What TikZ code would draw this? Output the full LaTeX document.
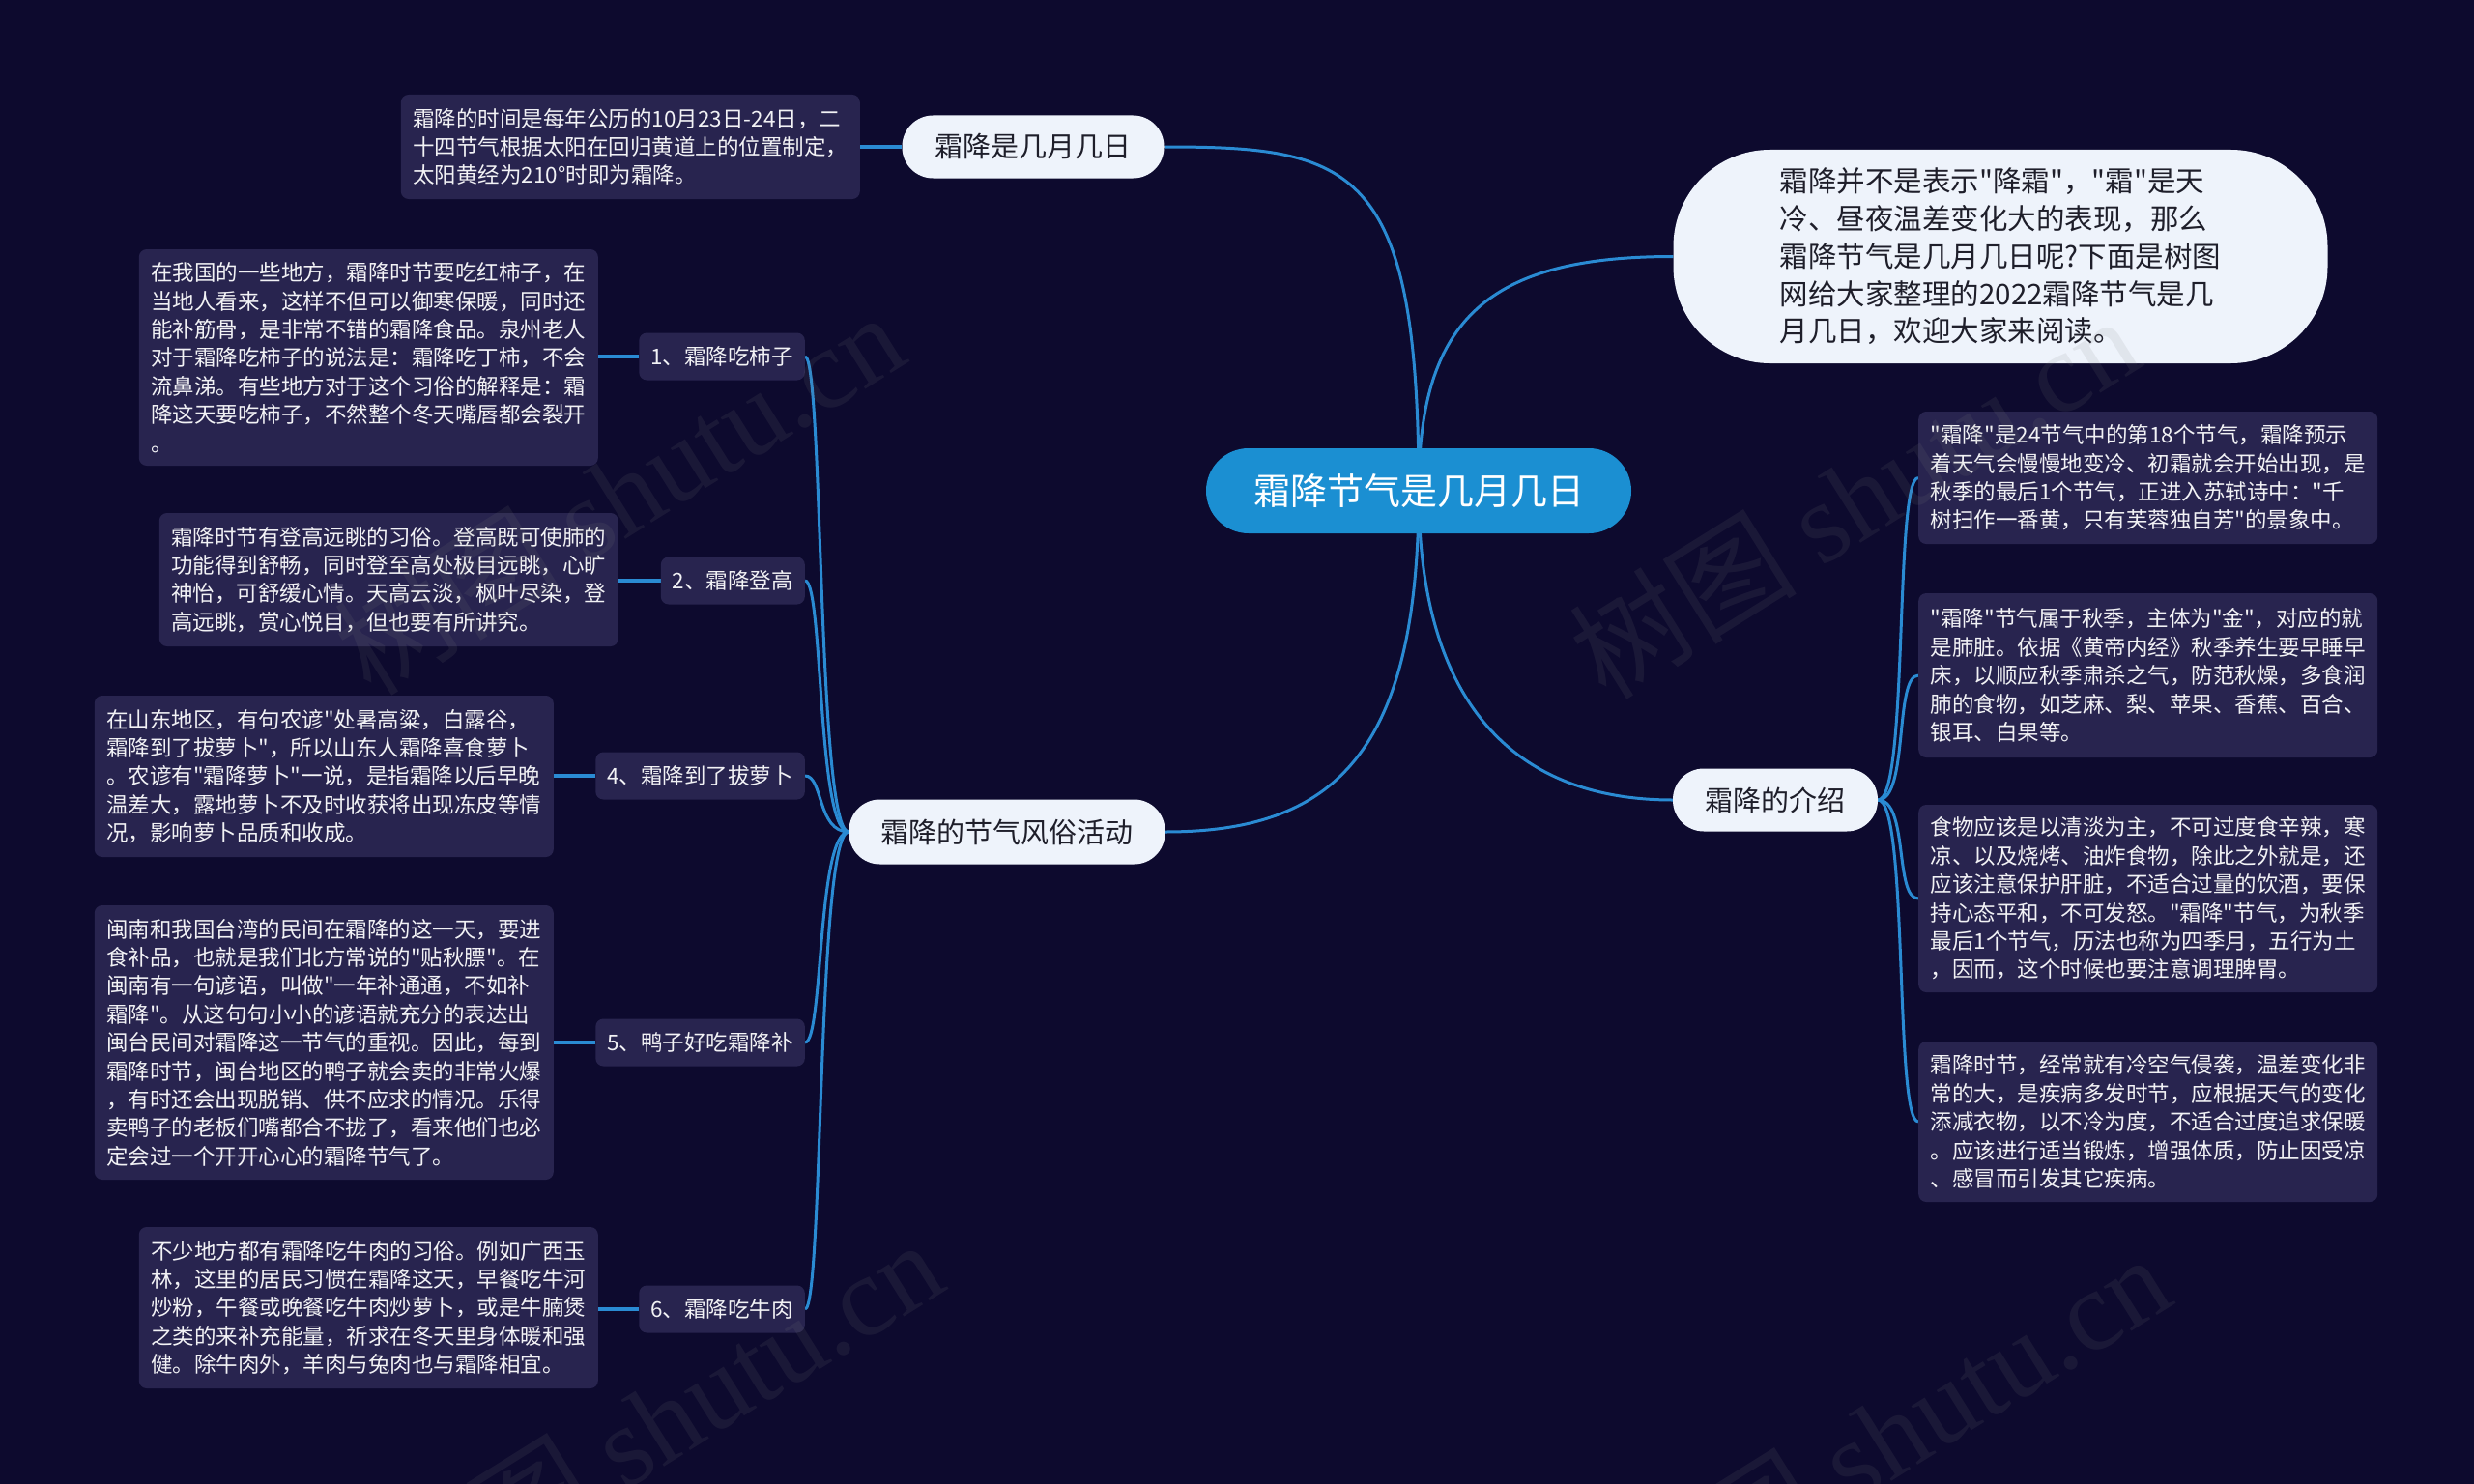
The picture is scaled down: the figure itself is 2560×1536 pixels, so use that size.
\documentclass[tikz,border=0pt]{standalone}
\usepackage{fontspec}
\setmainfont{Noto Sans CJK SC}
\newfontfamily\zh{Noto Sans CJK SC}
\newfontfamily\wmserif{Liberation Serif}
\pgfdeclarelayer{bglayer}
\pgfdeclarelayer{linelayer}
\pgfdeclarelayer{wmlayer}
\pgfsetlayers{bglayer,linelayer,main,wmlayer}
\definecolor{bgc}{HTML}{0D0A2E}
\definecolor{boxc}{HTML}{28244F}
\definecolor{lightc}{HTML}{EEF3FB}
\definecolor{cenc}{HTML}{1B8FD2}
\definecolor{linec}{HTML}{2A8BD3}
\definecolor{txtc}{HTML}{F2F2F5}
\definecolor{darktxt}{HTML}{1E1E2A}
\definecolor{wmc}{HTML}{808080}
\tikzset{
  detail/.style={fill=boxc, rounded corners=8pt, text=txtc, align=left, inner xsep=9pt, inner ysep=0pt, minimum width=475pt, font=\zh\fontsize{22.5pt}{29.4pt}\selectfont},
  subnode/.style={fill=boxc, rounded corners=8pt, text=txtc, inner xsep=12pt, inner ysep=0pt, minimum height=49pt, font=\zh\fontsize{22.5pt}{27pt}\selectfont},
  topic/.style={fill=lightc, text=darktxt, rounded corners=32pt, inner ysep=0pt, minimum height=65pt, font=\zh\fontsize{29pt}{35pt}\selectfont},
  conn/.style={draw=linec, line width=3pt},
  hconn/.style={draw=linec, line width=3.5pt},
  wm/.style={text=wmc, opacity=0.12, font=\zh\fontsize{118pt}{130pt}\selectfont}
}
\begin{document}
\begin{tikzpicture}[x=1pt,y=-1pt]
\begin{pgfonlayer}{bglayer}
\fill[bgc] (0,0) rectangle (2560,1536);
\end{pgfonlayer}
\useasboundingbox (0,0) rectangle (2560,1536);

% center
\node[fill=cenc, text=white, rounded corners=44pt, minimum width=440pt, minimum height=88pt, inner ysep=0pt, font=\zh\fontsize{38pt}{44pt}\selectfont] (c) at (1468,508) {霜降节气是几月几日};

% main topics
\node[topic, minimum width=271pt] (a) at (1069,152) {霜降是几月几日};
\node[fill=lightc, text=darktxt, rounded corners=100pt, minimum width=677pt, minimum height=221pt, align=left, font=\zh\fontsize{29.5pt}{38.8pt}\selectfont] (b) at (2070,265.5) {霜降并不是表示"降霜"，"霜"是天\\冷、昼夜温差变化大的表现，那么\\霜降节气是几月几日呢?下面是树图\\网给大家整理的2022霜降节气是几\\月几日，欢迎大家来阅读。};
\node[topic, minimum width=212pt] (d) at (1837,828) {霜降的介绍};
\node[topic, minimum width=327pt, minimum height=67pt] (e) at (1042,861) {霜降的节气风俗活动};

% detail of a
\node[detail, anchor=east, minimum height=108pt] (d0) at (890,152) {霜降的时间是每年公历的10月23日-24日，二\\十四节气根据太阳在回归黄道上的位置制定，\\太阳黄经为210°时即为霜降。};

% left sub nodes
\node[subnode, anchor=east] (l1) at (833,369) {1、霜降吃柿子};
\node[subnode, anchor=east] (l2) at (833,601) {2、霜降登高};
\node[subnode, anchor=east] (l4) at (833,803) {4、霜降到了拔萝卜};
\node[subnode, anchor=east] (l5) at (833,1079) {5、鸭子好吃霜降补};
\node[subnode, anchor=east] (l6) at (833,1355) {6、霜降吃牛肉};

% left details
\node[detail, anchor=east, minimum height=224pt] (d1) at (619,370) {在我国的一些地方，霜降时节要吃红柿子，在\\当地人看来，这样不但可以御寒保暖，同时还\\能补筋骨，是非常不错的霜降食品。泉州老人\\对于霜降吃柿子的说法是：霜降吃丁柿，不会\\流鼻涕。有些地方对于这个习俗的解释是：霜\\降这天要吃柿子，不然整个冬天嘴唇都会裂开\\。};
\node[detail, anchor=east, minimum height=138pt] (d2) at (640,600) {霜降时节有登高远眺的习俗。登高既可使肺的\\功能得到舒畅，同时登至高处极目远眺，心旷\\神怡，可舒缓心情。天高云淡，枫叶尽染，登\\高远眺，赏心悦目，但也要有所讲究。};
\node[detail, anchor=east, minimum height=167pt] (d4) at (573,803.5) {在山东地区，有句农谚"处暑高粱，白露谷，\\霜降到了拔萝卜"，所以山东人霜降喜食萝卜\\。农谚有"霜降萝卜"一说，是指霜降以后早晚\\温差大，露地萝卜不及时收获将出现冻皮等情\\况，影响萝卜品质和收成。};
\node[detail, anchor=east, minimum height=284pt] (d5) at (573,1079) {闽南和我国台湾的民间在霜降的这一天，要进\\食补品，也就是我们北方常说的"贴秋膘"。在\\闽南有一句谚语，叫做"一年补通通，不如补\\霜降"。从这句句小小的谚语就充分的表达出\\闽台民间对霜降这一节气的重视。因此，每到\\霜降时节，闽台地区的鸭子就会卖的非常火爆\\，有时还会出现脱销、供不应求的情况。乐得\\卖鸭子的老板们嘴都合不拢了，看来他们也必\\定会过一个开开心心的霜降节气了。};
\node[detail, anchor=east, minimum height=167pt] (d6) at (619,1353.5) {不少地方都有霜降吃牛肉的习俗。例如广西玉\\林，这里的居民习惯在霜降这天，早餐吃牛河\\炒粉，午餐或晚餐吃牛肉炒萝卜，或是牛腩煲\\之类的来补充能量，祈求在冬天里身体暖和强\\健。除牛肉外，羊肉与兔肉也与霜降相宜。};

% right details
\node[detail, anchor=west, minimum height=137pt] (r1) at (1985,494.5) {"霜降"是24节气中的第18个节气，霜降预示\\着天气会慢慢地变冷、初霜就会开始出现，是\\秋季的最后1个节气，正进入苏轼诗中："千\\树扫作一番黄，只有芙蓉独自芳"的景象中。};
\node[detail, anchor=west, minimum height=170pt] (r2) at (1985,699) {"霜降"节气属于秋季，主体为"金"，对应的就\\是肺脏。依据《黄帝内经》秋季养生要早睡早\\床，以顺应秋季肃杀之气，防范秋燥，多食润\\肺的食物，如芝麻、梨、苹果、香蕉、百合、\\银耳、白果等。};
\node[detail, anchor=west, minimum height=194pt] (r3) at (1985,930) {食物应该是以清淡为主，不可过度食辛辣，寒\\凉、以及烧烤、油炸食物，除此之外就是，还\\应该注意保护肝脏，不适合过量的饮酒，要保\\持心态平和，不可发怒。"霜降"节气，为秋季\\最后1个节气，历法也称为四季月，五行为土\\，因而，这个时候也要注意调理脾胃。};
\node[detail, anchor=west, minimum height=166pt] (r4) at (1985,1161) {霜降时节，经常就有冷空气侵袭，温差变化非\\常的大，是疾病多发时节，应根据天气的变化\\添减衣物，以不冷为度，不适合过度追求保暖\\。应该进行适当锻炼，增强体质，防止因受凉\\、感冒而引发其它疾病。};

\begin{pgfonlayer}{linelayer}
\draw[conn] (c.center) .. controls (1468,170) and (1400,152) .. (a.east);
\draw[conn] (c.center) .. controls (1468,330) and (1540,265.5) .. (b.west);
\draw[conn] (c.center) .. controls (1468,720) and (1560,828) .. (d.west);
\draw[conn] (c.center) .. controls (1468,780) and (1380,861) .. (e.east);
\draw[hconn] (a.west) -- (a.west -| d0.east);
\foreach \n in {r1,r2,r3,r4}{
  \draw[conn] (d.east) .. controls +(32,0) and +(-25,0) .. (\n.west);
}
\foreach \n in {l1,l2,l4,l5,l6}{
  \draw[conn] (e.west) .. controls +(-33,0) and +(19,0) .. (\n.east);
}
\draw[hconn] (l1.west) -- (l1.west -| d1.east);
\draw[hconn] (l2.west) -- (l2.west -| d2.east);
\draw[hconn] (l4.west) -- (l4.west -| d4.east);
\draw[hconn] (l5.west) -- (l5.west -| d5.east);
\draw[hconn] (l6.west) -- (l6.west -| d6.east);
\end{pgfonlayer}

\begin{pgfonlayer}{wmlayer}
\node[wm, rotate=32] (w1) at (640,510) {树图 {\wmserif shutu.cn}};
\node[wm, rotate=32] (w2) at (1918,514) {树图 {\wmserif shutu.cn}};
\node[wm, rotate=32] (w3) at (680,1470) {树图 {\wmserif shutu.cn}};
\node[wm, rotate=32] (w4) at (1950,1485) {树图 {\wmserif shutu.cn}};
\end{pgfonlayer}
\end{tikzpicture}
\end{document}
